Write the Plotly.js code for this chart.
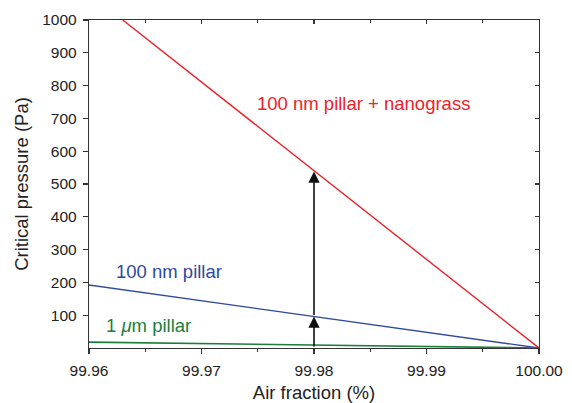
<!DOCTYPE html>
<html><head><meta charset="utf-8">
<script src="https://cdn.plot.ly/plotly-3.0.1.min.js"></script>
<style>html,body{margin:0;padding:0;background:#fff}#c{width:572px;height:403px}</style>
</head><body><div id="c"></div>
<script>
const nanograssX = [99.963, 100.00];
const nanograssY = [1000, 0];
const pillar100X = [99.96, 100.00];
const pillar100Y = [192, 0];
const pillar1umX = [99.96, 100.00];
const pillar1umY = [18, 0];
const arrowX = 99.98;
const arrowY = [0, 96, 538];
const xTicks = [99.96, 99.97, 99.98, 99.99, 100.00];
const xTickText = ["99.96", "99.97", "99.98", "99.99", "100.00"];
const yTicks = [100, 200, 300, 400, 500, 600, 700, 800, 900, 1000];

const font = "Liberation Sans, Arial, sans-serif";
const traces = [
  {x: nanograssX, y: nanograssY, mode: 'lines', line: {color: '#ee2229', width: 1.4}, hoverinfo: 'skip'},
  {x: pillar100X, y: pillar100Y, mode: 'lines', line: {color: '#2e4a9e', width: 1.4}, hoverinfo: 'skip'},
  {x: pillar1umX, y: pillar1umY, mode: 'lines', line: {color: '#1b7e3c', width: 1.6}, hoverinfo: 'skip'},
  {x: [99.96], y: [0], xaxis: 'x2', yaxis: 'y2', mode: 'markers', marker: {opacity: 0}, hoverinfo: 'skip'}
];
const axBase = {showgrid: false, zeroline: false, linecolor: '#333', linewidth: 1.2, tickcolor: '#333', tickwidth: 1.2,
  tickfont: {family: font, size: 15.5, color: '#222'}};
const layout = {
  width: 572, height: 403, showlegend: false,
  margin: {l: 89, r: 33, t: 20, b: 55},
  paper_bgcolor: '#fff', plot_bgcolor: '#fff',
  font: {family: font},
  xaxis: Object.assign({}, axBase, {range: [99.96, 100.00], tickvals: xTicks, ticktext: xTickText,
    ticks: 'outside', ticklen: 5, ticklabelstandoff: 3,
    minor: {dtick: 0.005, ticks: 'outside', ticklen: 3, tickcolor: '#333'},
    title: {text: 'Air fraction (%)', font: {family: font, size: 18.5, color: '#222'}, standoff: 9}}),
  yaxis: Object.assign({}, axBase, {range: [0, 1000], tickvals: yTicks, ticks: 'outside', ticklen: 5,
    ticklabelstandoff: 3,
    title: {text: 'Critical pressure (Pa)', font: {family: font, size: 18.5, color: '#222'}, standoff: 8}}),
  xaxis2: Object.assign({}, axBase, {overlaying: 'x', side: 'top', range: [99.96, 100.00], tickvals: xTicks,
    showticklabels: false, ticks: 'inside', ticklen: 4, showline: true, anchor: 'y2',
    minor: {dtick: 0.005, ticks: 'inside', ticklen: 3, tickcolor: '#333'}}),
  yaxis2: Object.assign({}, axBase, {overlaying: 'y', side: 'right', range: [0, 1000], tickvals: yTicks,
    showticklabels: false, ticks: 'inside', ticklen: 4, showline: true, anchor: 'x2'}),
  annotations: [
    {x: arrowX, y: arrowY[1], ax: arrowX, ay: arrowY[0], xref: 'x', yref: 'y', axref: 'x', ayref: 'y',
     showarrow: true, arrowhead: 2, arrowsize: 1.4, arrowwidth: 1.6, arrowcolor: '#111', text: ''},
    {x: arrowX, y: arrowY[2], ax: arrowX, ay: arrowY[1], xref: 'x', yref: 'y', axref: 'x', ayref: 'y',
     showarrow: true, arrowhead: 2, arrowsize: 1.4, arrowwidth: 1.6, arrowcolor: '#111', text: ''},
    {x: 99.9844, y: 744, xref: 'x', yref: 'y', showarrow: false, text: '100 nm pillar + nanograss',
     font: {family: font, size: 18.5, color: '#ee2229'}},
    {x: 99.96707, y: 232, xref: 'x', yref: 'y', showarrow: false, text: '100 nm pillar',
     font: {family: font, size: 18.5, color: '#2e4a9e'}},
    {x: 99.96533, y: 70, xref: 'x', yref: 'y', showarrow: false, text: '1 <i>μ</i>m pillar',
     font: {family: font, size: 18.5, color: '#1b7e3c'}}
  ]
};
Plotly.newPlot('c', traces, layout, {staticPlot: true, displayModeBar: false});
</script></body></html>
